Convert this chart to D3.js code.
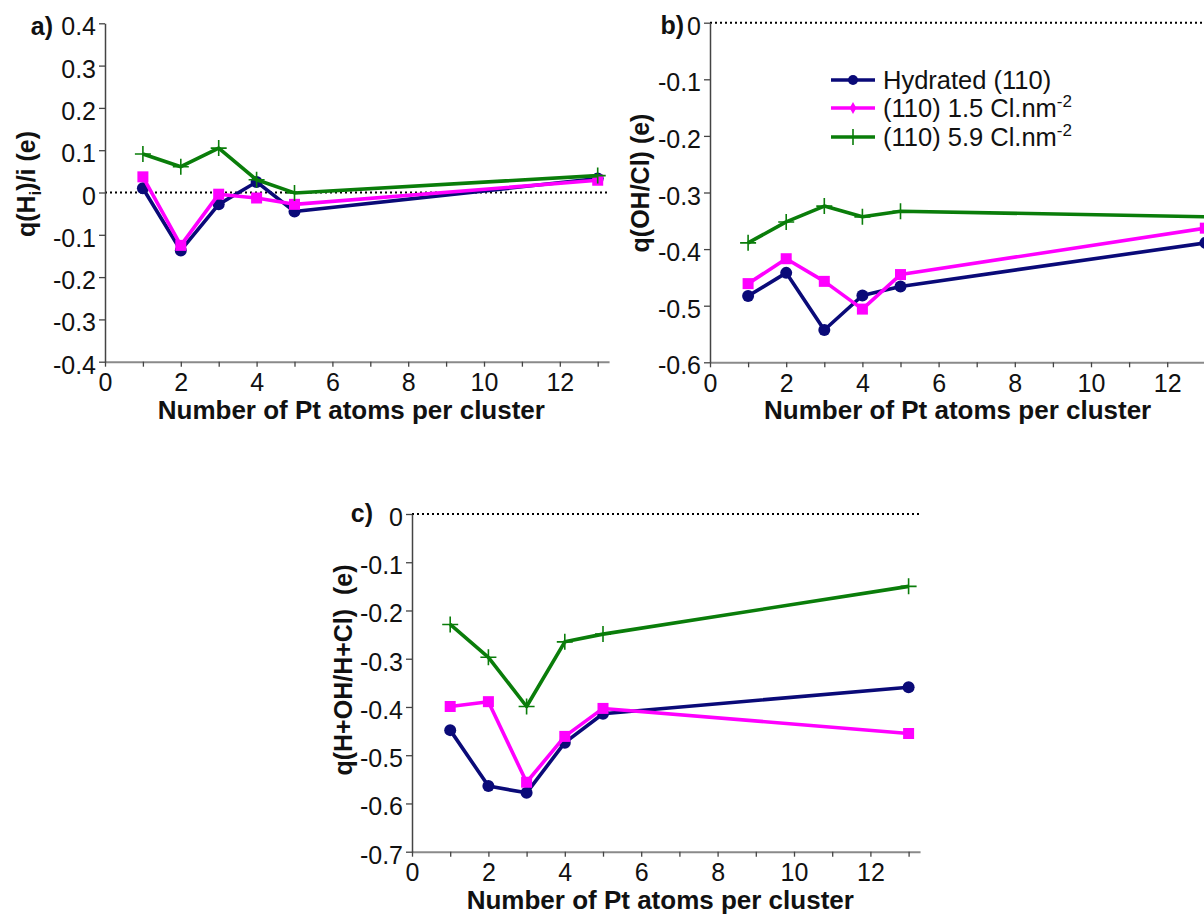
<!DOCTYPE html>
<html>
<head>
<meta charset="utf-8">
<script src="https://cdn.jsdelivr.net/npm/d3@7"></script>
<style>
  body { margin: 0; background: #fff; }
  svg { display: block; font-family: "Liberation Sans", Arial, sans-serif; }
</style>
</head>
<body>
<svg id="chart" width="1204" height="914"></svg>
<script>
// ---------- DATA ----------
const clusterSizes = [1, 2, 3, 4, 5, 13];
const seriesNames = ["Hydrated (110)", "(110) 1.5 Cl.nm", "(110) 5.9 Cl.nm"];

// panel a: q(Hi)/i
const aHydrated = [0.010, -0.137, -0.028, 0.025, -0.045, 0.033];
const aCl15     = [0.037, -0.125, -0.004, -0.013, -0.028, 0.029];
const aCl59     = [0.091, 0.061, 0.105, 0.030, -0.001, 0.040];

// panel b: q(OH/Cl)
const bHydrated = [-0.483, -0.442, -0.543, -0.482, -0.466, -0.389];
const bCl15     = [-0.461, -0.417, -0.457, -0.506, -0.445, -0.363];
const bCl59     = [-0.389, -0.352, -0.324, -0.343, -0.333, -0.343];

// panel c: q(H+OH/H+Cl)
const cHydrated = [-0.448, -0.564, -0.578, -0.474, -0.414, -0.359];
const cCl15     = [-0.399, -0.389, -0.556, -0.461, -0.403, -0.455];
const cCl59     = [-0.229, -0.297, -0.399, -0.265, -0.249, -0.150];

const xTickValues = [0, 1, 2, 3, 4, 5, 6, 7, 8, 9, 10, 11, 12, 13];
const aYTicks = [0.4, 0.3, 0.2, 0.1, 0, -0.1, -0.2, -0.3, -0.4];
const bYTicks = [0, -0.1, -0.2, -0.3, -0.4, -0.5, -0.6];
const cYTicks = [0, -0.1, -0.2, -0.3, -0.4, -0.5, -0.6, -0.7];
const xTitle = "Number of Pt atoms per cluster";

// ---------- STYLE ----------
const colors = ["#0a0a78", "#ff00ff", "#0a7d0a"];
const markers = ["circle", "square", "plus"];

const svg = d3.select("#chart");

function fmtY(v) { return v === 0 ? "0" : v.toFixed(1); }

function drawMarker(g, type, color, cx, cy, small) {
  if (type === "circle") {
    g.append("circle").attr("cx", cx).attr("cy", cy).attr("r", small ? 5 : 6).attr("fill", color);
  } else if (type === "square") {
    const s = 11;
    g.append("rect").attr("x", cx - s / 2).attr("y", cy - s / 2).attr("width", s).attr("height", s).attr("fill", color);
  } else if (type === "diamond") {
    g.append("path").attr("d", d3.symbol(d3.symbolDiamond, 40)()).attr("transform", `translate(${cx},${cy})`).attr("fill", color);
  } else {
    const a = 8;
    g.append("path").attr("d", `M${cx - a},${cy}H${cx + a}M${cx},${cy - a}V${cy + a}`)
      .attr("stroke", color).attr("stroke-width", 1.6).attr("fill", "none");
  }
}

function drawPanel(cfg) {
  const x = d3.scaleLinear().domain([0, 13.3]).range([cfg.left, cfg.left + 13.3 * cfg.unit]);
  const y = d3.scaleLinear().domain([cfg.yTicks[0], cfg.yTicks[cfg.yTicks.length - 1]]).range([cfg.top, cfg.bottom]);
  const g = svg.append("g");

  // zero reference dotted line
  g.append("line")
    .attr("x1", x(0)).attr("x2", x(13.3))
    .attr("y1", y(0)).attr("y2", y(0))
    .attr("stroke", "#000").attr("stroke-width", 2).attr("stroke-dasharray", "2,3");

  // x axis
  const xa = g.append("g").attr("transform", `translate(0,${cfg.bottom})`)
    .call(d3.axisBottom(x).tickValues(xTickValues).tickSize(5).tickSizeOuter(0).tickPadding(7)
      .tickFormat(d => d % 2 === 0 ? d : ""));
  xa.select(".domain").attr("stroke", "#8a8a8a").attr("stroke-width", 2);
  xa.selectAll(".tick line").attr("stroke", "#444").attr("stroke-width", 1.3);
  xa.selectAll(".tick text").attr("font-size", 25).attr("fill", "#111")
    .attr("font-family", "Liberation Sans, Arial, sans-serif");

  // y axis
  const ya = g.append("g").attr("transform", `translate(${cfg.left},0)`)
    .call(d3.axisLeft(y).tickValues(cfg.yTicks).tickSize(6).tickSizeOuter(0).tickPadding(3).tickFormat(fmtY));
  ya.select(".domain").attr("stroke", "#444").attr("stroke-width", 1.5);
  ya.selectAll(".tick line").attr("stroke", "#444").attr("stroke-width", 1.3);
  ya.selectAll(".tick text").attr("font-size", 25).attr("fill", "#111").attr("dy", "0.46em")
    .attr("font-family", "Liberation Sans, Arial, sans-serif");

  // series
  const line = d3.line().x(d => x(d[0])).y(d => y(d[1]));
  cfg.series.forEach((vals, i) => {
    const pts = clusterSizes.map((c, k) => [c, vals[k]]);
    g.append("path").datum(pts).attr("d", line)
      .attr("fill", "none").attr("stroke", colors[i]).attr("stroke-width", 3.6)
      .attr("stroke-linejoin", "round");
    pts.forEach(p => drawMarker(g, markers[i], colors[i], x(p[0]), y(p[1])));
  });

  // x title
  g.append("text").attr("x", x(6.5)).attr("y", cfg.bottom + 57)
    .attr("text-anchor", "middle").attr("font-size", 26).attr("font-weight", "bold").attr("fill", "#111")
    .text(xTitle);

  // panel letter
  g.append("text").attr("x", cfg.letterX).attr("y", cfg.letterY)
    .attr("text-anchor", "end").attr("font-size", 25).attr("font-weight", "bold").attr("fill", "#111")
    .text(cfg.letter);

  // y title
  const yt = g.append("text").attr("transform", `translate(${cfg.ylabX},${cfg.ylabY}) rotate(-90)`)
    .attr("text-anchor", "middle").attr("font-size", 25).attr("font-weight", "bold").attr("fill", "#111")
    .attr("dy", "0.35em");
  cfg.ylabel(yt);
  return { x, y };
}

drawPanel({
  left: 105, top: 23.3, bottom: 361.7, unit: 37.9, yTicks: aYTicks,
  series: [aHydrated, aCl15, aCl59],
  letter: "a)", letterX: 53, letterY: 35, ylabX: 26, ylabY: 184,
  ylabel: t => {
    t.append("tspan").text("q(H");
    t.append("tspan").attr("font-size", 17).attr("dy", 6).text("i");
    t.append("tspan").attr("dy", -6).text(")/i (e)");
  }
});

drawPanel({
  left: 710, top: 22.7, bottom: 362.3, unit: 38.1, yTicks: bYTicks,
  series: [bHydrated, bCl15, bCl59],
  letter: "b)", letterX: 684, letterY: 34, ylabX: 640, ylabY: 183,
  ylabel: t => t.text("q(OH/Cl) (e)")
});

drawPanel({
  left: 412, top: 514, bottom: 851.7, unit: 38.2, yTicks: cYTicks,
  series: [cHydrated, cCl15, cCl59],
  letter: "c)", letterX: 373, letterY: 522, ylabX: 343, ylabY: 670,
  ylabel: t => t.text("q(H+OH/H+Cl)\u00a0\u00a0(e)")
});

// legend (panel b)
const leg = svg.append("g");
const legMarkers = ["circle", "diamond", "plus"];
const rowY = [80, 108, 137];
seriesNames.forEach((name, i) => {
  leg.append("line").attr("x1", 831).attr("x2", 875).attr("y1", rowY[i]).attr("y2", rowY[i])
    .attr("stroke", colors[i]).attr("stroke-width", 3.6);
  drawMarker(leg, legMarkers[i], colors[i], 853, rowY[i], true);
  const t = leg.append("text").attr("x", 883).attr("y", rowY[i] + 9)
    .attr("font-size", 25.5).attr("fill", "#111").text(name);
  if (i > 0) t.append("tspan").attr("font-size", 17).attr("dy", -10).text("-2");
});
</script>
</body>
</html>
